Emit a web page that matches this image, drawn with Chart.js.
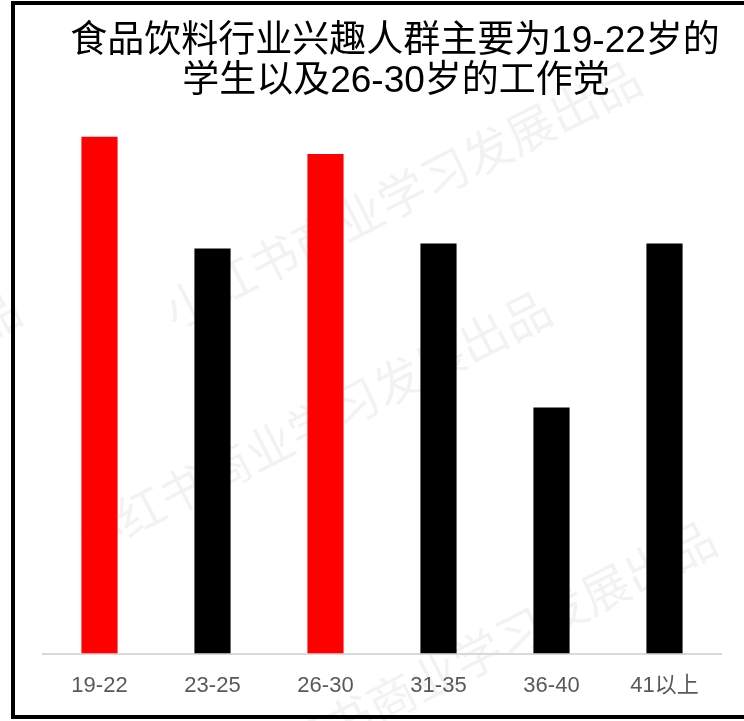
<!DOCTYPE html>
<html>
<head>
<meta charset="utf-8">
<script src="https://cdn.jsdelivr.net/npm/chart.js@4.4.0/dist/chart.umd.min.js"></script>
<style>
  html, body { margin: 0; padding: 0; background: #fff; overflow: hidden; }
  #wrap { position: relative; width: 744px; height: 721px; }
  #frame {
    position: absolute; left: 11px; top: 1px; width: 800px; height: 710px;
    border: 4px solid #000; pointer-events: none;
  }
</style>
</head>
<body>
<div id="wrap">
  <canvas id="myChart" width="744" height="721"></canvas>
  <div id="frame"></div>
</div>
<script>
const ageGroups = ['19-22', '23-25', '26-30', '31-35', '36-40', '41以上'];
const shares = [20.8, 16.3, 20.1, 16.5, 9.9, 16.5];
const highlighted = ['19-22', '26-30'];
const titleLines = ['食品饮料行业兴趣人群主要为19-22岁的', '学生以及26-30岁的工作党'];
const watermarkText = '小红书商业学习发展出品';

const barColors = ageGroups.map(g => highlighted.includes(g) ? '#ff0000' : '#000000');

// faint diagonal watermark behind the bars
const watermark = {
  id: 'watermark',
  beforeDraw(chart) {
    const ctx = chart.ctx;
    const starts = [[175, 330], [85, 560], [250, 790], [-445, 560], [-470, 820]];
    ctx.save();
    ctx.fillStyle = 'rgba(0,0,0,0.05)';
    ctx.font = '48px "Noto Sans CJK SC"';
    ctx.textBaseline = 'alphabetic';
    starts.forEach(([x, y]) => {
      ctx.save();
      ctx.translate(x, y);
      ctx.rotate(-0.47);
      ctx.fillText(watermarkText, 0, 0);
      ctx.restore();
    });
    ctx.restore();
  }
};

// title drawn by hand so it can sit a little right of centre like the original
const titleText = {
  id: 'titleText',
  afterDraw(chart) {
    const ctx = chart.ctx;
    ctx.save();
    ctx.fillStyle = '#000';
    ctx.font = '37px "Liberation Sans", "Noto Sans CJK SC"';
    ctx.textAlign = 'center';
    ctx.textBaseline = 'middle';
    ctx.fillText(titleLines[0], 395, 42);
    ctx.fillText(titleLines[1], 396, 82);
    ctx.restore();
  }
};

const ctx = document.getElementById('myChart').getContext('2d');
new Chart(ctx, {
  type: 'bar',
  data: {
    labels: ageGroups,
    datasets: [{
      data: shares,
      backgroundColor: barColors,
      borderWidth: 0,
      categoryPercentage: 1,
      barPercentage: 0.32
    }]
  },
  options: {
    responsive: false,
    animation: false,
    layout: { padding: { left: 43, right: 23, top: 120, bottom: 3 } },
    plugins: {
      legend: { display: false },
      title: { display: false },
      tooltip: { enabled: false }
    },
    scales: {
      x: {
        grid: { display: false, drawTicks: false },
        border: { display: true, color: '#d9d9d9', width: 2 },
        ticks: {
          color: '#595959',
          padding: 19,
          font: { size: 22, family: '"Liberation Sans", "Noto Sans CJK SC"' }
        }
      },
      y: {
        display: false,
        min: 0,
        max: 21.47
      }
    }
  },
  plugins: [watermark, titleText]
});
</script>
</body>
</html>
